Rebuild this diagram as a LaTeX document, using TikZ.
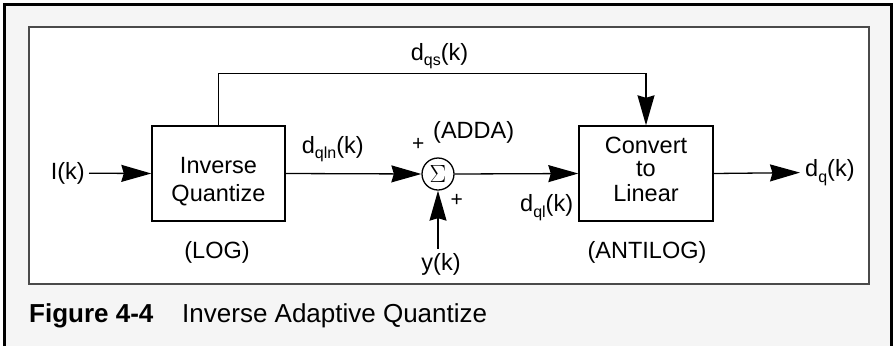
\documentclass[tikz,border=0pt]{standalone}
\usepackage{fontspec}
\setmainfont{Liberation Sans}
\usetikzlibrary{arrows.meta}
\definecolor{panelgray}{HTML}{F5F5F5}
\definecolor{framegray}{HTML}{4A4A4A}
% lowered subscript in a smaller size
\newcommand{\lowsub}[1]{\raisebox{-5.5pt}{\fontsize{16}{16}\selectfont #1}}
\begin{document}
\begin{tikzpicture}[x=1pt, y=-1pt,
  txt/.style={inner sep=0pt, font=\fontsize{23.5}{27}\selectfont},
  small/.style={inner sep=0pt, font=\fontsize{21}{21}\selectfont},
  captxt/.style={inner sep=0pt, font=\fontsize{26}{30}\selectfont},
  blk/.style={draw, line width=1.4pt, minimum height=95pt, inner sep=0pt},
  adder/.style={draw, circle, line width=1.3pt, minimum size=32pt, inner sep=0pt},
  wire/.style={line width=1.3pt},
  sig/.style={wire, -{Stealth[length=30pt, width=17pt, inset=2.5pt]}}
]
% page and panels
\path[use as bounding box, fill=white] (0,0) rectangle (893,346);
\fill[panelgray] (4.5,4.5) rectangle (891.5,346);
\draw[line width=3pt] (4.5,346) -- (4.5,4.5) -- (891.5,4.5) -- (891.5,346);
\draw[framegray, fill=white, line width=2pt] (29,27) rectangle (868.5,284);

% blocks
\node[blk, minimum width=133pt] (iq) at (218.5,173.5) {};
\node[blk, minimum width=134pt] (cv) at (646,173.5) {};
\node[adder] (sum) at (438,174) {};
\node[inner sep=0pt, font=\fontsize{23}{23}\selectfont] (sigma) at (438,174) {$\Sigma$};

% block texts
\node[txt, anchor=base] (iqa) at (218.5,173.3) {Inverse};
\node[txt, anchor=base] (iqb) at (218.5,201) {Quantize};
\node[txt, anchor=base] (cva) at (646,153.3) {Convert};
\node[txt, anchor=base] (cvb) at (646,176.7) {to};
\node[txt, anchor=base] (cvc) at (646,201.7) {Linear};
\node[txt, anchor=base] (log) at (217,258.3) {(LOG)};
\node[txt, anchor=base] (antilog) at (647,258.3) {(ANTILOG)};

% signal labels
\node[txt, anchor=base east, inner xsep=4pt] (ik) at (89,179.3) {I(k)};
\node[txt, anchor=base west] (dqs) at (410.7,60) {d\lowsub{qs}(k)};
\node[txt, anchor=base west] (dqln) at (301.7,153.3) {d\lowsub{qln}(k)};
\node[txt, anchor=base west] (adda) at (433,138.3) {(ADDA)};
\node[txt, anchor=base west] (dql) at (520,211.7) {d\lowsub{ql}(k)};
\node[txt, anchor=base west, inner xsep=5pt] (dq) at (800,176.7) {d\lowsub{q}(k)};
\node[txt, anchor=base, inner ysep=4pt] (yk) at (441,270) {y(k)};
\node[small] (plusa) at (418.3,144.3) {+};
\node[small] (plusb) at (456.7,200) {+};

% connections
\draw[sig] (ik.east) -- (iq.west);
\draw[sig] (iq.east) -- (sum.west);
\draw[sig] (sum.east) -- (cv.west);
\draw[sig] (cv.east) -- (dq.west);
\draw[sig] (yk.north -| sum.south) -- (sum.south);
\draw[sig] (iq.north) -- ++(0,-52) -| (cv.north);

% caption
\node[captxt, anchor=base west, font=\fontsize{26}{30}\selectfont\bfseries] (fig) at (29,322) {Figure 4-4};
\node[captxt, anchor=base west] (title) at (182,322) {Inverse Adaptive Quantize};
\end{tikzpicture}
\end{document}
